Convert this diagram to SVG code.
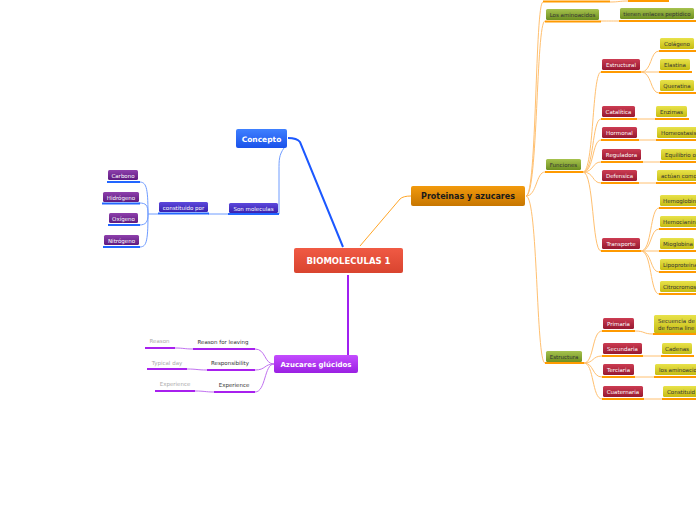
<svg xmlns="http://www.w3.org/2000/svg" width="696" height="520" viewBox="0 0 696 520">
<defs>
<linearGradient id="gRed" x1="0" y1="0" x2="0" y2="1"><stop offset="0" stop-color="#f05a44"/><stop offset="1" stop-color="#d9442f"/></linearGradient>
<linearGradient id="gOr" x1="0" y1="0" x2="0" y2="1"><stop offset="0" stop-color="#f29a0c"/><stop offset="1" stop-color="#c77600"/></linearGradient>
<linearGradient id="gBlue" x1="0" y1="0" x2="0" y2="1"><stop offset="0" stop-color="#3f80ff"/><stop offset="1" stop-color="#1a52ea"/></linearGradient>
<linearGradient id="gPur" x1="0" y1="0" x2="0" y2="1"><stop offset="0" stop-color="#c44cff"/><stop offset="1" stop-color="#9a1fe2"/></linearGradient>
<linearGradient id="gInd" x1="0" y1="0" x2="0" y2="1"><stop offset="0" stop-color="#5c48dc"/><stop offset="1" stop-color="#3a22b0"/></linearGradient>
<linearGradient id="gVio" x1="0" y1="0" x2="0" y2="1"><stop offset="0" stop-color="#8e40ac"/><stop offset="1" stop-color="#5e1a80"/></linearGradient>
<linearGradient id="gOl" x1="0" y1="0" x2="0" y2="1"><stop offset="0" stop-color="#a6c24e"/><stop offset="1" stop-color="#6e9020"/></linearGradient>
<linearGradient id="gCr" x1="0" y1="0" x2="0" y2="1"><stop offset="0" stop-color="#cc3c52"/><stop offset="1" stop-color="#961830"/></linearGradient>
<linearGradient id="gYe" x1="0" y1="0" x2="0" y2="1"><stop offset="0" stop-color="#e8e24a"/><stop offset="1" stop-color="#c6bc12"/></linearGradient>
</defs>
<style>
text{font-family:"DejaVu Sans",Verdana,sans-serif}
.s{font-size:5.5px}
.c{text-anchor:middle}
.w{fill:#ffffff}
.d{fill:#333333}
.g{fill:#aaaaaa}
.uo{stroke:#ff9a00;stroke-width:2}
.ub{stroke:#2266ff;stroke-width:2}
.up{stroke:#a820ee;stroke-width:2}
.co{fill:none;stroke:#ffc070;stroke-width:1}
.cb{fill:none;stroke:#6f9cff;stroke-width:1}
.cp{fill:none;stroke:#c070f0;stroke-width:1}
.ol{fill:url(#gOl)}
.cr{fill:url(#gCr)}
.ye{fill:url(#gYe)}
.vi{fill:url(#gVio)}
.in{fill:url(#gInd)}
</style>
<rect width="696" height="520" fill="#ffffff"/>

<g id="connectors">
<path d="M343,247 L300,142 Q297,138 288,138" fill="none" stroke="#1c58ff" stroke-width="2"/>
<path d="M360,246 L400,199 Q403,196 411,196" fill="none" stroke="#ffa628" stroke-width="1"/>
<path d="M348,275 L348,355" fill="none" stroke="#a020f0" stroke-width="2"/>
<path d="M284,148 C279,155 279,160 279,170 L279,214" class="cb"/>
<path d="M228,214 L208,214" class="cb"/>
<path d="M158,214 L148,214" class="cb"/>
<path d="M148,214 C148,186 146,182 139,182" class="cb"/>
<path d="M148,214 C148,205 146,203 139,203" class="cb"/>
<path d="M148,214 C148,222 146,225 139,225" class="cb"/>
<path d="M148,214 C148,244 146,247 139,247" class="cb"/>
<path d="M274,364 C264,364 266,349 255,349" class="cp"/>
<path d="M274,364 C264,364 266,370 255,370" class="cp"/>
<path d="M274,364 C264,364 266,392 255,392" class="cp"/>
<path d="M193,349 C184,349 184,348 175,348" class="cp"/>
<path d="M207,370 C197,370 197,369 187,369" class="cp"/>
<path d="M214,392 C205,392 205,391 195,391" class="cp"/>
<path d="M526,196 C537,196 535,2 543,2" class="co"/>
<path d="M526,196 C538,196 536,21 545,21" class="co"/>
<path d="M526,196 C537,196 536,172 545,172" class="co"/>
<path d="M526,196 C538,196 536,363 545,363" class="co"/>
<path d="M610,2 C619,2 619,1 628,1" class="co"/>
<path d="M601,21 C610,21 610,21 619,21" class="co"/>
<path d="M583,172 C594,172 592,72 601,72" class="co"/>
<path d="M583,172 C594,172 592,119 601,119" class="co"/>
<path d="M583,172 C594,172 592,140 601,140" class="co"/>
<path d="M583,172 C594,172 592,162 601,162" class="co"/>
<path d="M583,172 C594,172 592,183 601,183" class="co"/>
<path d="M583,172 C594,172 592,251 601,251" class="co"/>
<path d="M641,72 C652,72 650,51 659,51" class="co"/>
<path d="M641,72 L659,72" class="co"/>
<path d="M641,72 C652,72 650,93 659,93" class="co"/>
<path d="M637,119 L655,119" class="co"/>
<path d="M639,140 L656,140" class="co"/>
<path d="M643,162 L660,162" class="co"/>
<path d="M639,183 L656,183" class="co"/>
<path d="M641,251 C652,251 650,208 659,208" class="co"/>
<path d="M641,251 C652,251 650,229 659,229" class="co"/>
<path d="M641,251 L659,251" class="co"/>
<path d="M641,251 C652,251 650,272 659,272" class="co"/>
<path d="M641,251 C652,251 650,294 659,294" class="co"/>
<path d="M584,363 C594,363 592,331 602,331" class="co"/>
<path d="M584,363 C594,363 592,356 602,356" class="co"/>
<path d="M584,363 C594,363 592,377 602,377" class="co"/>
<path d="M584,363 C594,363 592,399 602,399" class="co"/>
<path d="M635,331 C645,331 643,334 653,334" class="co"/>
<path d="M643,356 L661,356" class="co"/>
<path d="M635,377 L654,377" class="co"/>
<path d="M644,399 L662,399" class="co"/>
</g>

<g id="central"><rect x="294" y="248" width="109" height="25" rx="2" fill="url(#gRed)"/><text x="348.5" y="264" class="c w" font-size="8.5" font-weight="bold">BIOMOLECULAS 1</text></g>
<g id="proteinas"><rect x="411" y="186" width="114" height="20" rx="2" fill="url(#gOr)"/><text x="468" y="199" class="c" fill="#1a1a1a" font-size="8" font-weight="bold">Proteinas y azucares</text></g>
<g id="concepto"><rect x="236" y="129" width="51" height="19" rx="2" fill="url(#gBlue)"/><text x="261.5" y="141.5" class="c w" font-size="7.5" font-weight="bold">Concepto</text></g>
<g id="azucares"><rect x="274" y="355" width="84" height="18" rx="2" fill="url(#gPur)"/><text x="316" y="367" class="c w" font-size="7" font-weight="bold">Azucares glúcidos</text></g>

<g id="son-moleculas"><rect x="229" y="203" width="49" height="10" rx="1.5" class="in"/><line x1="228" y1="214" x2="279" y2="214" class="ub"/><text x="253.5" y="210.5" class="s c w">Son moleculas</text></g>
<g id="constituido"><rect x="159" y="202" width="49" height="10" rx="1.5" class="in"/><line x1="158" y1="213.5" x2="209" y2="213.5" class="ub"/><text x="183.5" y="209.5" class="s c w">constituido por</text></g>
<g id="carbono"><rect x="108" y="170" width="30" height="10" rx="1.5" class="vi"/><line x1="107" y1="182" x2="140" y2="182" class="ub"/><text x="123" y="177.5" class="s c w">Carbono</text></g>
<g id="hidrogeno"><rect x="103" y="192" width="36" height="10" rx="1.5" class="vi"/><line x1="102" y1="203.5" x2="140" y2="203.5" class="ub"/><text x="121" y="199.5" class="s c w">Hidrógeno</text></g>
<g id="oxigeno"><rect x="109" y="213" width="29" height="10" rx="1.5" class="vi"/><line x1="108" y1="225" x2="140" y2="225" class="ub"/><text x="123.5" y="220.5" class="s c w">Oxígeno</text></g>
<g id="nitrogeno"><rect x="104" y="235" width="35" height="10" rx="1.5" class="vi"/><line x1="103" y1="247" x2="140" y2="247" class="ub"/><text x="121.5" y="242.5" class="s c w">Nitrógeno</text></g>

<g id="reason-leaving"><line x1="193" y1="349" x2="255" y2="349" class="up"/><text x="223" y="344" class="s c d">Reason for leaving</text></g>
<g id="responsibility"><line x1="207" y1="370" x2="255" y2="370" class="up"/><text x="230" y="365" class="s c d">Responsibility</text></g>
<g id="experience"><line x1="214" y1="392" x2="255" y2="392" class="up"/><text x="234" y="387" class="s c d">Experience</text></g>
<g id="reason"><line x1="145" y1="348" x2="175" y2="348" class="up"/><text x="159.5" y="343" class="s c g">Reason</text></g>
<g id="typical-day"><line x1="147" y1="369" x2="187" y2="369" class="up"/><text x="167" y="364.5" class="s c g">Typical day</text></g>
<g id="experience-2"><line x1="155" y1="391" x2="195" y2="391" class="up"/><text x="175" y="386" class="s c g">Experience</text></g>

<g id="top-a"><rect x="546" y="-12" width="63" height="12" rx="1.5" class="ol"/><line x1="543" y1="1.5" x2="610" y2="1.5" class="uo"/></g>
<g id="top-b"><rect x="629" y="-12" width="39" height="12" rx="1.5" class="ye"/><line x1="628" y1="1" x2="669" y2="1" class="uo"/></g>
<g id="los-aminoacidos"><rect x="546" y="9" width="53" height="11" rx="1.5" class="ol"/><line x1="545" y1="21.5" x2="601" y2="21.5" class="uo"/><text x="572.5" y="16.5" class="s c d">Los aminoacidos</text></g>
<g id="enlaces"><rect x="620" y="8" width="74" height="11" rx="1.5" class="ol"/><line x1="619" y1="21" x2="696" y2="21" class="uo"/><text x="657" y="15.5" class="s c d">tienen enlaces peptidico</text></g>
<g id="funciones"><rect x="546" y="159" width="35" height="11" rx="1.5" class="ol"/><line x1="545" y1="172" x2="583" y2="172" class="uo"/><text x="563.5" y="166.5" class="s c d">Funciones</text></g>
<g id="estructura"><rect x="546" y="351" width="36" height="11" rx="1.5" class="ol"/><line x1="545" y1="363" x2="584" y2="363" class="uo"/><text x="564" y="358.5" class="s c d">Estructura</text></g>

<g id="estructural"><rect x="602" y="59" width="38" height="11" rx="1.5" class="cr"/><line x1="601" y1="72" x2="641" y2="72" class="uo"/><text x="621" y="66.5" class="s c w">Estructural</text></g>
<g id="catalitica"><rect x="602" y="106" width="33" height="11" rx="1.5" class="cr"/><line x1="601" y1="119" x2="637" y2="119" class="uo"/><text x="618.5" y="113.5" class="s c w">Catalítica</text></g>
<g id="hormonal"><rect x="602" y="127" width="35" height="11" rx="1.5" class="cr"/><line x1="601" y1="140" x2="639" y2="140" class="uo"/><text x="619.5" y="134.5" class="s c w">Hormonal</text></g>
<g id="reguladora"><rect x="602" y="149" width="39" height="11" rx="1.5" class="cr"/><line x1="601" y1="162" x2="643" y2="162" class="uo"/><text x="621.5" y="156.5" class="s c w">Reguladora</text></g>
<g id="defensica"><rect x="602" y="170" width="35" height="11" rx="1.5" class="cr"/><line x1="601" y1="183" x2="639" y2="183" class="uo"/><text x="619.5" y="177.5" class="s c w">Defensica</text></g>
<g id="transporte"><rect x="602" y="238" width="38" height="11" rx="1.5" class="cr"/><line x1="601" y1="251" x2="641" y2="251" class="uo"/><text x="621" y="245.5" class="s c w">Transporte</text></g>
<g id="primaria"><rect x="603" y="318" width="31" height="11" rx="1.5" class="cr"/><line x1="602" y1="331" x2="635" y2="331" class="uo"/><text x="618.5" y="325.5" class="s c w">Primaria</text></g>
<g id="secundaria"><rect x="603" y="343" width="39" height="11" rx="1.5" class="cr"/><line x1="602" y1="356" x2="643" y2="356" class="uo"/><text x="622.5" y="350.5" class="s c w">Secundaria</text></g>
<g id="terciaria"><rect x="603" y="364" width="31" height="11" rx="1.5" class="cr"/><line x1="602" y1="377" x2="635" y2="377" class="uo"/><text x="618.5" y="371.5" class="s c w">Terciaria</text></g>
<g id="cuaternaria"><rect x="603" y="386" width="40" height="11" rx="1.5" class="cr"/><line x1="602" y1="399" x2="644" y2="399" class="uo"/><text x="623" y="393.5" class="s c w">Cuaternaria</text></g>

<g id="colageno"><rect x="660" y="38" width="34" height="11" rx="1.5" class="ye"/><line x1="659" y1="51" x2="696" y2="51" class="uo"/><text x="677" y="45.5" class="s c d">Colágeno</text></g>
<g id="elastina"><rect x="660" y="59" width="30" height="11" rx="1.5" class="ye"/><line x1="659" y1="72" x2="692" y2="72" class="uo"/><text x="675" y="66.5" class="s c d">Elastina</text></g>
<g id="queratina"><rect x="660" y="80" width="34" height="11" rx="1.5" class="ye"/><line x1="659" y1="93" x2="696" y2="93" class="uo"/><text x="677" y="87.5" class="s c d">Queratina</text></g>
<g id="enzimas"><rect x="656" y="106" width="31" height="11" rx="1.5" class="ye"/><line x1="655" y1="119" x2="689" y2="119" class="uo"/><text x="671.5" y="113.5" class="s c d">Enzimas</text></g>
<g id="homeostasis"><rect x="657" y="127" width="45" height="11" rx="1.5" class="ye"/><line x1="656" y1="140" x2="696" y2="140" class="uo"/><text x="661" y="134.5" class="s d">Homeostasis</text></g>
<g id="equilibrio"><rect x="661" y="149" width="45" height="11" rx="1.5" class="ye"/><line x1="660" y1="162" x2="696" y2="162" class="uo"/><text x="665" y="156.5" class="s d">Equilibrio o</text></g>
<g id="actuan"><rect x="657" y="170" width="45" height="11" rx="1.5" class="ye"/><line x1="656" y1="183" x2="696" y2="183" class="uo"/><text x="661" y="177.5" class="s d">actúan como</text></g>
<g id="hemoglobina"><rect x="660" y="195" width="45" height="11" rx="1.5" class="ye"/><line x1="659" y1="208" x2="696" y2="208" class="uo"/><text x="663" y="202.5" class="s d">Hemoglobin</text></g>
<g id="hemocianina"><rect x="660" y="216" width="45" height="11" rx="1.5" class="ye"/><line x1="659" y1="229" x2="696" y2="229" class="uo"/><text x="663" y="223.5" class="s d">Hemocianin</text></g>
<g id="mioglobina"><rect x="660" y="238" width="34" height="11" rx="1.5" class="ye"/><line x1="659" y1="251" x2="696" y2="251" class="uo"/><text x="663" y="245.5" class="s d">Mioglobina</text></g>
<g id="lipoproteina"><rect x="660" y="259" width="45" height="11" rx="1.5" class="ye"/><line x1="659" y1="272" x2="696" y2="272" class="uo"/><text x="663" y="266.5" class="s d">Lipoproteina</text></g>
<g id="citrocromos"><rect x="660" y="281" width="45" height="11" rx="1.5" class="ye"/><line x1="659" y1="294" x2="696" y2="294" class="uo"/><text x="663" y="288.5" class="s d">Citrocromos</text></g>
<g id="secuencia"><rect x="654" y="315" width="50" height="18" rx="1.5" class="ye"/><line x1="653" y1="334" x2="696" y2="334" class="uo"/><text x="658" y="322.5" class="s d">Secuencia de</text><text x="658" y="329.5" class="s d">de forma line</text></g>
<g id="cadenas"><rect x="662" y="343" width="30" height="11" rx="1.5" class="ye"/><line x1="661" y1="356" x2="694" y2="356" class="uo"/><text x="677" y="350.5" class="s c d">Cadenas</text></g>
<g id="los-aminoacid"><rect x="655" y="364" width="50" height="11" rx="1.5" class="ye"/><line x1="654" y1="377" x2="696" y2="377" class="uo"/><text x="659" y="371.5" class="s d">los aminoacid</text></g>
<g id="constituid"><rect x="663" y="386" width="45" height="11" rx="1.5" class="ye"/><line x1="662" y1="399" x2="696" y2="399" class="uo"/><text x="667" y="393.5" class="s d">Constituid</text></g>
</svg>
